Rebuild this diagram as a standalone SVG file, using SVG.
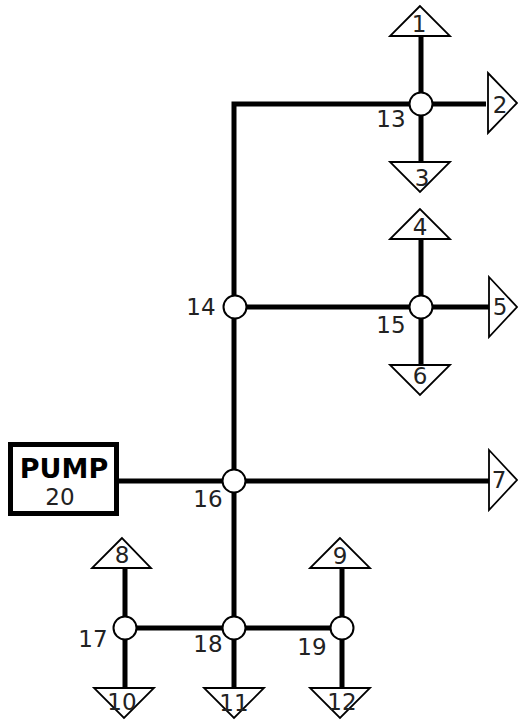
<svg xmlns="http://www.w3.org/2000/svg" width="518" height="721" viewBox="0 0 518 721">
<style>
.bg{fill:#fff}
.c{fill:none;stroke:#000;stroke-width:5}
.t{fill:#fff;stroke:#000;stroke-width:1.8}
.n{fill:#fff;stroke:#000;stroke-width:2}
.l{font-family:"DejaVu Sans",sans-serif;font-size:23px;fill:#222;text-anchor:middle}
.b{font-family:"DejaVu Sans",sans-serif;font-weight:bold;font-size:27px;fill:#000;text-anchor:middle}
.p{fill:#fff;stroke:#000;stroke-width:5}
</style>
<rect class="bg" width="518" height="721"/>
<g id="terminals">
<g id="t1"><polygon class="t" points="420,6 390,36 450,36"/></g>
<g id="t2"><polygon class="t" points="488,73 517,103 488,133"/></g>
<g id="t3"><polygon class="t" points="390,162 450,162 420,192"/></g>
<g id="t4"><polygon class="t" points="420,209 390,239 450,239"/></g>
<g id="t5"><polygon class="t" points="489,277 517,307 489,337"/></g>
<g id="t6"><polygon class="t" points="390,365 450,365 420,395"/></g>
<g id="t7"><polygon class="t" points="489,450 517,480 489,510"/></g>
<g id="t8"><polygon class="t" points="122,538 92,568 151,568"/></g>
<g id="t9"><polygon class="t" points="340,538 310,568 370,568"/></g>
<g id="t10"><polygon class="t" points="94,688 154,688 124,718"/></g>
<g id="t11"><polygon class="t" points="204,688 264,688 234,718"/></g>
<g id="t12"><polygon class="t" points="310,688 370,688 340,718"/></g>
</g>
<g id="connectors">
<path class="c" d="M421,36V162M486,104H421M421,104H234V628"/>
<path class="c" d="M234,307H489M421,239V365"/>
<path class="c" d="M119,481H489"/>
<path class="c" d="M125,568V688M125,628H342M234,628V688M342,568V688"/>
</g>
<g id="pump"><rect class="p" x="10.5" y="444.5" width="106" height="69"/></g>
<g id="nodes">
<g id="n13"><circle class="n" cx="421" cy="104" r="11.5"/></g>
<g id="n14"><circle class="n" cx="235" cy="307" r="11.5"/></g>
<g id="n15"><circle class="n" cx="421" cy="307" r="11.5"/></g>
<g id="n16"><circle class="n" cx="234" cy="481" r="11.5"/></g>
<g id="n17"><circle class="n" cx="125" cy="628" r="11.5"/></g>
<g id="n18"><circle class="n" cx="234" cy="628" r="11.5"/></g>
<g id="n19"><circle class="n" cx="342" cy="628" r="11.5"/></g>
</g>
<g id="labels">
<text class="l" x="419" y="32">1</text>
<text class="l" x="500" y="113">2</text>
<text class="l" x="422" y="186">3</text>
<text class="l" x="420" y="235">4</text>
<text class="l" x="500" y="315">5</text>
<text class="l" x="420" y="384">6</text>
<text class="l" x="499" y="488">7</text>
<text class="l" x="122" y="563">8</text>
<text class="l" x="340" y="564">9</text>
<text class="l" x="122" y="710">10</text>
<text class="l" x="234" y="711">11</text>
<text class="l" x="342" y="710">12</text>
<text class="l" x="391" y="127">13</text>
<text class="l" x="201" y="315">14</text>
<text class="l" x="391" y="333">15</text>
<text class="l" x="208" y="507">16</text>
<text class="l" x="93" y="647">17</text>
<text class="l" x="208" y="652">18</text>
<text class="l" x="312" y="655">19</text>
<text class="b" x="64" y="478">PUMP</text>
<text class="l" x="60" y="505">20</text>
</g>
</svg>
